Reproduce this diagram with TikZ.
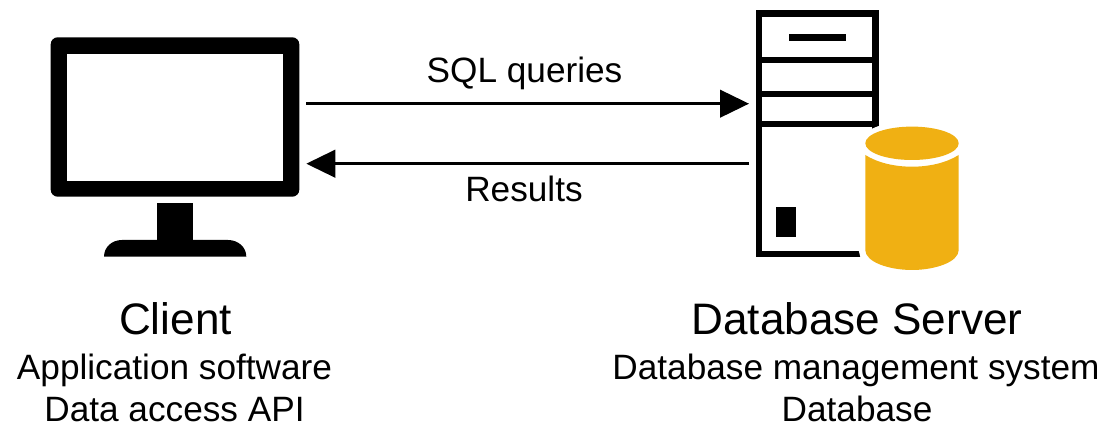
\documentclass[tikz,border=0pt]{standalone}
\usepackage{fontspec}
\setmainfont{Liberation Sans}
\usetikzlibrary{arrows.meta}
\definecolor{dbgold}{HTML}{F0B013}
\tikzset{
  big/.style={anchor=base,inner sep=0pt,font=\fontsize{44.1}{44.1}\selectfont},
  txt/.style={anchor=base,inner sep=0pt,font=\fontsize{35.2}{35.2}\selectfont},
  flow/.style={line width=3pt,-{Triangle[length=29pt,width=27.4pt]}},
  frame/.style={draw=none,inner sep=0pt,outer sep=0pt}
}
\begin{document}
\begin{tikzpicture}[x=1pt,y=-1pt]
\useasboundingbox (0,0) rectangle (1106,427);
% client monitor
\fill[black,rounded corners=7pt] (50.7,37.3) rectangle (299.3,196.7);
\fill[white] (66.7,53.7) rectangle (283,181);
\fill[black] (157,203.3) rectangle (193.3,240);
\fill[black] (104,256.7) .. controls (104,247) and (112,240) .. (122,240) -- (228,240) .. controls (238,240) and (246.3,247) .. (246.3,256.7) -- cycle;
\node[frame,minimum width=248.6pt,minimum height=159.4pt] (client) at (175,117) {};
% server tower
\fill[black] (756,10) rectangle (878.7,256.7);
\fill[white] (762,16.7) rectangle (872.3,56.7);
\fill[white] (762,63.3) rectangle (872.3,90.7);
\fill[white] (762,96.7) rectangle (872.3,120.7);
\fill[white] (762,126.7) rectangle (872.3,250.7);
\fill[black] (789,34) rectangle (846,40.7);
\fill[black] (776,206.7) rectangle (796,236.7);
\node[frame,minimum width=122.7pt,minimum height=246.7pt] (server) at (817.35,133.35) {};
% cylinder with its white halo
\fill[white] (912,143.3) ellipse [x radius=53pt,y radius=22pt];
\path[fill=white,draw=white,line width=13pt] (865.3,155) -- (958.7,155)
  -- (958.7,250) .. controls (958.7,262) and (935,270) .. (912,270)
  .. controls (889,270) and (865.3,262) .. (865.3,250) -- cycle;
\fill[white] (912,143.3) ellipse [x radius=53pt,y radius=22pt];
\fill[dbgold] (912,143.3) ellipse [x radius=46.7pt,y radius=16.7pt];
\fill[dbgold] (865.3,155) .. controls (878,163) and (895,166.7) .. (912,166.7)
  .. controls (929,166.7) and (946,163) .. (958.7,155)
  -- (958.7,250) .. controls (958.7,262) and (935,270) .. (912,270)
  .. controls (889,270) and (865.3,262) .. (865.3,250) -- cycle;
% connectors
\coordinate (qs) at (client.east |- 0,103.7);
\coordinate (qe) at (server.west |- 0,103.7);
\coordinate (rs) at (server.west |- 0,163.7);
\coordinate (re) at (client.east |- 0,163.7);
\draw[flow] ([xshift=6.7pt]qs) -- ([xshift=-7pt]qe);
\draw[flow] ([xshift=-7pt]rs) -- ([xshift=7pt]re);
% labels
\node[txt] (sql) at (524.5,82.2) {SQL queries};
\node[txt] (res) at (524,201.7) {Results};
\node[big] (cl) at (175.5,335) {Client};
\node[txt] (app) at (174.5,380) {Application software};
\node[txt] (api) at (174.5,422) {Data access API};
\node[big] (dbs) at (857,335) {Database Server};
\node[txt] (dbms) at (856,380) {Database management system};
\node[txt] (db) at (857,422) {Database};
\end{tikzpicture}
\end{document}
